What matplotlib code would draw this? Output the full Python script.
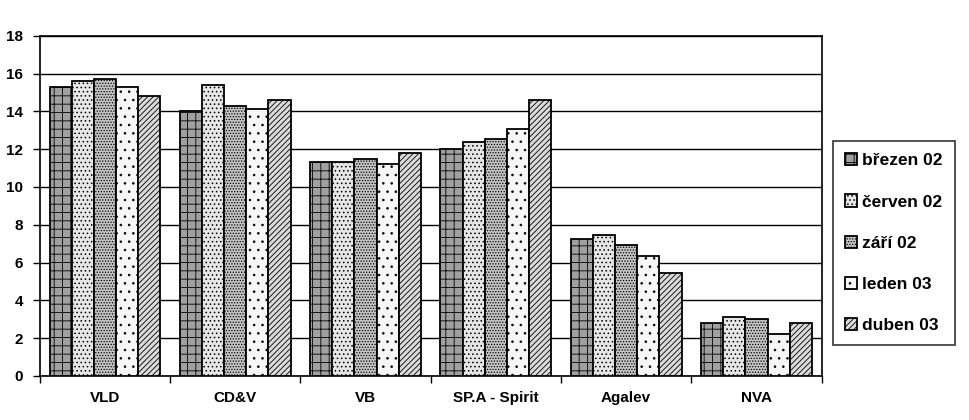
import matplotlib
matplotlib.use("Agg")
import matplotlib.pyplot as plt
import numpy as np

# poll results (%)
categories = ["VLD", "CD&V", "VB", "SP.A - Spirit", "Agalev", "NVA"]
series_names = ["březen 02", "červen 02", "září 02", "leden 03", "duben 03"]
brezen_02 = [15.3, 14.0, 11.3, 12.0, 7.25, 2.8]
cerven_02 = [15.6, 15.4, 11.3, 12.4, 7.45, 3.1]
zari_02 = [15.7, 14.3, 11.5, 12.55, 6.9, 3.0]
leden_03 = [15.3, 14.1, 11.2, 13.05, 6.35, 2.2]
duben_03 = [14.8, 14.6, 11.8, 14.6, 5.45, 2.8]
y_ticks = [0, 2, 4, 6, 8, 10, 12, 14, 16, 18]

series = [brezen_02, cerven_02, zari_02, leden_03, duben_03]
faces = ["#a0a0a0", "#e6e6e6", "#c4c4c4", "#f6f6f6", "#dadada"]
hatches = ["-|-|", "....", "......", "..", "//////"]

plt.rcParams["font.family"] = ["Liberation Sans", "DejaVu Sans"]
plt.rcParams["font.weight"] = "bold"
plt.rcParams["hatch.linewidth"] = 0.6

fig = plt.figure(figsize=(9.7, 4.2), dpi=100)
ax = fig.add_axes([0.041, 0.105, 0.806, 0.81])

x = np.arange(len(categories))
w = 0.17
for i, (vals, name) in enumerate(zip(series, series_names)):
    ax.bar(x + (i - 2) * w, vals, w, color=faces[i], edgecolor="black",
           hatch=hatches[i], linewidth=1.3, label=name, zorder=3)

ax.set_xlim(-0.5, len(categories) - 0.5)
ax.set_ylim(0, 18)
ax.set_yticks(y_ticks)
ax.set_yticklabels([str(t) for t in y_ticks], fontsize=11, fontweight="bold")
ax.yaxis.grid(True, color="black", linewidth=1.0, zorder=0)
ax.tick_params(axis="y", direction="out", length=5, width=1, pad=7)

# group boundary ticks, labels at group centres
ax.set_xticks(np.arange(len(categories) + 1) - 0.5)
ax.set_xticklabels([])
ax.tick_params(axis="x", which="major", direction="out", length=5, width=1)
ax.set_xticks(x, minor=True)
ax.set_xticklabels(categories, minor=True, fontsize=11, fontweight="bold")
ax.tick_params(axis="x", which="minor", length=0, pad=11)

for s in ax.spines.values():
    s.set_linewidth(1.2)

leg = ax.legend(loc="lower left", bbox_to_anchor=(1.014, 0.09), frameon=True,
                fancybox=False, edgecolor="black", fontsize=12.5,
                handlelength=0.7, handleheight=0.7, handletextpad=0.3,
                labelspacing=1.5, borderpad=0.7, borderaxespad=0)
leg.get_frame().set_linewidth(1.2)
for t in leg.get_texts():
    t.set_fontweight("bold")

fig.savefig("out.png", dpi=100)
